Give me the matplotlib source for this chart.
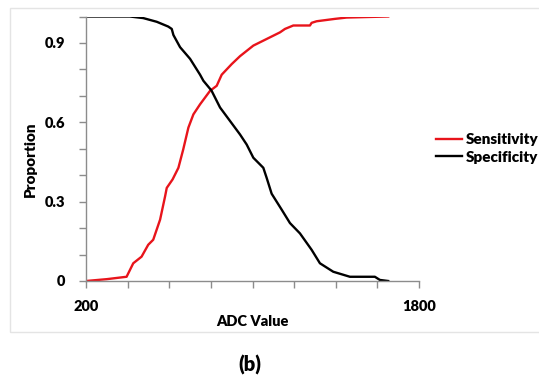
import matplotlib
matplotlib.use("Agg")
import matplotlib.pyplot as plt
from matplotlib.patches import Rectangle

plt.rcParams['font.family'] = ['Lato', 'DejaVu Sans']
plt.rcParams['font.weight'] = 'heavy'

# data
sens_x = [200, 300, 395, 427, 467, 499, 523, 556, 580, 588, 616, 644, 667, 692,
          716, 748, 796, 828, 852, 900, 940, 1004, 1068, 1132, 1156, 1196, 1276,
          1284, 1308, 1396, 1452, 1550, 1652]
sens_y = [0, 0.007, 0.016, 0.067, 0.092, 0.137, 0.156, 0.232, 0.32, 0.352, 0.384,
          0.428, 0.497, 0.58, 0.63, 0.668, 0.719, 0.738, 0.78, 0.82, 0.85, 0.89,
          0.915, 0.94, 0.953, 0.966, 0.966, 0.976, 0.982, 0.991, 0.996, 0.998, 1.0]

spec_x = [200, 300, 411, 475, 540, 595, 612, 620, 652, 700, 716, 748, 764, 803,
          844, 892, 940, 972, 1004, 1052, 1068, 1092, 1140, 1180, 1228, 1284, 1324,
          1388, 1468, 1588, 1612, 1652]
spec_y = [1.0, 1.0, 1.0, 0.994, 0.98, 0.962, 0.953, 0.93, 0.884, 0.84, 0.82, 0.78,
          0.757, 0.72, 0.656, 0.605, 0.554, 0.516, 0.466, 0.428, 0.39, 0.33, 0.27,
          0.219, 0.18, 0.118, 0.067, 0.035, 0.016, 0.016, 0.004, 0.0]

y_ticks = [0, 0.3, 0.6, 0.9]
y_labels = ['0', '0.3', '0.6', '0.9']
x_ticks = [200, 1800]
x_labels = ['200', '1800']

W, H = 539, 382
fig = plt.figure(figsize=(W / 100, H / 100), dpi=100)

# light frame around the chart area
fig.patches.append(Rectangle((10 / W, 1 - 332 / H), 1.0, (332 - 8) / H,
                             transform=fig.transFigure, fill=False,
                             edgecolor='#e4e4e4', linewidth=1))

ax = fig.add_axes([86 / W, 1 - 281 / H, (419 - 86) / W, (281 - 16.5) / H])
ax.plot(sens_x, sens_y, color='#e8141b', linewidth=1.7, label='Sensitivity')
ax.plot(spec_x, spec_y, color='black', linewidth=1.7, label='Specificity')

ax.set_xlim(200, 1800)
ax.set_ylim(0, 1.0)
ax.set_yticks(y_ticks)
ax.set_yticklabels(y_labels)
ax.set_yticks([0.1, 0.2, 0.4, 0.5, 0.7, 0.8, 1.0], minor=True)
ax.set_xticks(x_ticks)
ax.set_xticklabels(x_labels)
ax.set_xticks(range(400, 1800, 200), minor=True)

for s in ['top', 'right']:
    ax.spines[s].set_visible(False)
for s in ['left', 'bottom']:
    ax.spines[s].set_color('#8c8c8c')
    ax.spines[s].set_linewidth(1)

ax.tick_params(which='both', direction='out', length=5, width=1, color='#8c8c8c',
               labelsize=10.5)
ax.tick_params(axis='y', pad=10)
ax.tick_params(axis='x', pad=9)

fig.text(30 / W, 1 - 159 / H, 'Proportion', rotation=90, ha='center', va='center',
         fontsize=11)
fig.text(252.5 / W, 1 - 321 / H, 'ADC Value', ha='center', va='center',
         fontsize=10.5)
fig.text(250 / W, 1 - 365 / H, '(b)', ha='center', va='center', fontsize=14.5)

fig.legend(loc='center left', bbox_to_anchor=(436 / W, 1 - 148.5 / H),
           frameon=False, fontsize=11, handlelength=1.7, handletextpad=0.25,
           labelspacing=0.3, borderpad=0, borderaxespad=0)

fig.savefig('out.png', dpi=100)
